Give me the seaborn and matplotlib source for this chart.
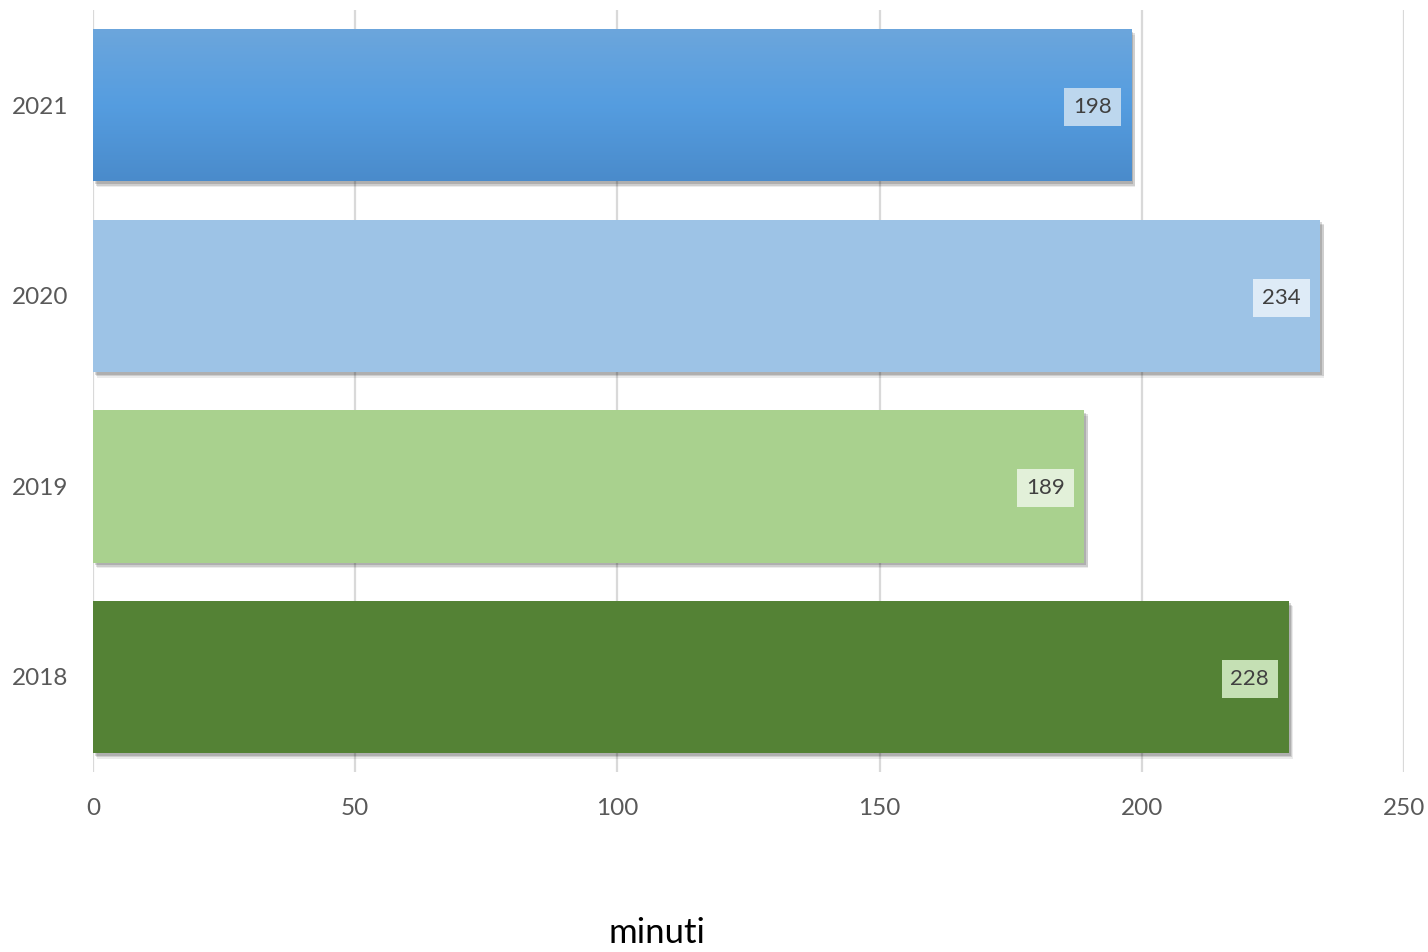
import numpy as np
import pandas as pd
import matplotlib
matplotlib.use("Agg")
import matplotlib.pyplot as plt
import matplotlib.patheffects as pe
from matplotlib.colors import LinearSegmentedColormap
import seaborn as sns

years = ["2021", "2020", "2019", "2018"]
minutes = [198, 234, 189, 228]
bar_colors = ["#5499DC", "#9DC3E6", "#A9D18E", "#548235"]
label_box_colors = ["#BDD7EE", "#DEEBF7", "#E2F0D9", "#C5E0B4"]
x_ticks = [0, 50, 100, 150, 200, 250]
x_label = "minuti"

sns.set_style("white")
plt.rcParams["font.family"] = ["Lato", "DejaVu Sans"]

df = pd.DataFrame({"anno": years, "minuti": minutes})

fig = plt.figure(figsize=(14.28, 9.52), dpi=100)
ax = fig.add_axes([0.0651, 0.189, 0.9181, 0.8005])

sns.barplot(data=df, x="minuti", y="anno", hue="anno", order=years,
            hue_order=years, palette=bar_colors, orient="h", width=0.8,
            legend=False, ax=ax, saturation=1)

shadow = [pe.SimplePatchShadow(offset=(3, -4), shadow_rgbFace="black", alpha=0.08),
          pe.SimplePatchShadow(offset=(2.5, -3), shadow_rgbFace="black", alpha=0.12),
          pe.SimplePatchShadow(offset=(1.5, -2), shadow_rgbFace="black", alpha=0.15),
          pe.Normal()]
for p in ax.patches:
    p.set_edgecolor("none")
    p.set_path_effects(shadow)
    p.set_zorder(2)

# gradient overlay on the first (2021) bar
bar0 = ax.patches[0]
bx, by = bar0.get_x(), bar0.get_y()
bw, bh = bar0.get_width(), bar0.get_height()
cmap = LinearSegmentedColormap.from_list("g", ["#6CA6DC", "#559DE0", "#4A8BCB"])
grad = np.linspace(0, 1, 256).reshape(-1, 1)
im = ax.imshow(grad, cmap=cmap, aspect="auto",
               extent=(bx, bx + bw, by + bh, by), zorder=2.5, origin="upper")
im.set_clip_path(bar0)

ax.set_xlim(0, 250)
ax.set_ylim(3.5, -0.5)
ax.set_xticks(x_ticks)
ax.set_xticklabels([str(t) for t in x_ticks])
ax.xaxis.grid(True, color="#D9D9D9", linewidth=1.6, zorder=0)
ax.set_axisbelow(True)
ax.yaxis.grid(False)
for s in ax.spines.values():
    s.set_visible(False)
ax.tick_params(axis="both", length=0, labelsize=17.5, labelcolor="#595959")
ax.tick_params(axis="y", pad=18)
ax.tick_params(axis="x", pad=19)
ax.set_xlabel("")
ax.set_ylabel("")

for i, (v, c) in enumerate(zip(minutes, label_box_colors)):
    ax.annotate(str(v), xy=(v, i), xytext=(-14, -1.5), textcoords="offset points",
                ha="right", va="center", fontsize=16, color="#404040", zorder=5,
                bbox=dict(boxstyle="square,pad=0.4", facecolor=c, edgecolor="none"))

fig.text(657 / 1428, 1 - 933 / 952, x_label, ha="center", va="center",
         fontsize=25, color="black")

fig.savefig("out.png", dpi=100)
